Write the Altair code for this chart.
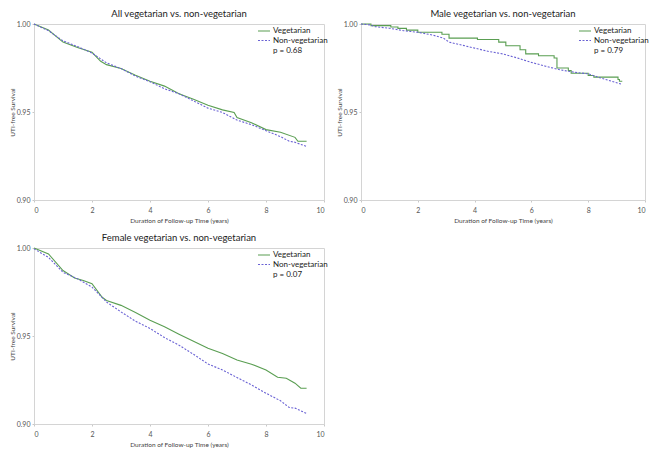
import altair as alt
import pandas as pd

# ---------------- data ----------------
groups = ["Vegetarian", "Non-vegetarian"]

all_veg_t = [0, 0.5, 1.0, 1.5, 2.0, 2.3, 2.5, 3.0, 3.5, 4.0, 4.5, 5.0, 5.5, 6.0, 6.5, 6.9, 7.0, 7.5, 8.0, 8.5, 9.0, 9.1, 9.4]
all_veg_s = [1.0, 0.9966, 0.9897, 0.9867, 0.9839, 0.9788, 0.9769, 0.9747, 0.9709, 0.9675, 0.9647, 0.9604, 0.9572, 0.9538, 0.9512, 0.9497, 0.9469, 0.9439, 0.9400, 0.9385, 0.9356, 0.9334, 0.9334]
all_non_t = [0, 0.5, 1.0, 1.5, 2.0, 2.5, 3.0, 3.5, 4.0, 4.5, 5.0, 5.5, 6.0, 6.5, 7.0, 7.5, 8.0, 8.5, 8.8, 9.0, 9.4]
all_non_s = [1.0, 0.9962, 0.9904, 0.9872, 0.9835, 0.9779, 0.9747, 0.9704, 0.9672, 0.9632, 0.9604, 0.9563, 0.9522, 0.9497, 0.9454, 0.9428, 0.9394, 0.9360, 0.9334, 0.9328, 0.9304]

male_veg_t = [0, 0.35, 1.05, 1.3, 1.6, 2.0, 2.85, 3.1, 4.1, 4.85, 5.1, 5.6, 5.8, 6.25, 6.8, 6.9, 7.3, 7.4, 8.0, 8.2, 9.05, 9.1, 9.2]
male_veg_s = [1.0, 0.9991, 0.9983, 0.9975, 0.9965, 0.9953, 0.9942, 0.9920, 0.9912, 0.9897, 0.9876, 0.9854, 0.9830, 0.9820, 0.9807, 0.9750, 0.9735, 0.9720, 0.9707, 0.9698, 0.9685, 0.9675, 0.9675]
male_non_t = [0, 0.3, 0.5, 1.0, 1.5, 2.0, 2.5, 2.9, 3.1, 3.5, 4.0, 4.5, 5.0, 5.5, 6.0, 6.5, 7.0, 7.5, 8.0, 8.5, 9.0, 9.2]
male_non_s = [1.0, 0.9995, 0.9985, 0.9976, 0.9962, 0.9953, 0.9938, 0.9920, 0.9897, 0.9882, 0.9863, 0.9844, 0.9830, 0.9807, 0.9782, 0.9760, 0.9740, 0.9726, 0.9717, 0.9690, 0.9666, 0.9657]

fem_veg_t = [0, 0.5, 1.0, 1.4, 1.7, 2.0, 2.35, 2.5, 3.0, 3.5, 4.0, 4.5, 5.0, 5.5, 6.0, 6.5, 7.0, 7.5, 8.0, 8.4, 8.7, 9.0, 9.2, 9.4]
fem_veg_s = [1.0, 0.9966, 0.9872, 0.9830, 0.9815, 0.9797, 0.9720, 0.9702, 0.9674, 0.9633, 0.9590, 0.9552, 0.9510, 0.9470, 0.9430, 0.9401, 0.9364, 0.9340, 0.9307, 0.9266, 0.9260, 0.9232, 0.9203, 0.9203]
fem_non_t = [0, 0.5, 1.0, 1.5, 2.0, 2.5, 3.0, 3.5, 4.0, 4.5, 5.0, 5.5, 6.0, 6.5, 7.0, 7.5, 8.0, 8.5, 8.8, 9.0, 9.4]
fem_non_s = [0.9995, 0.9947, 0.9862, 0.9825, 0.9778, 0.9693, 0.9637, 0.9584, 0.9543, 0.9491, 0.9448, 0.9396, 0.9341, 0.9307, 0.9264, 0.9222, 0.9175, 0.9132, 0.9094, 0.9090, 0.9060]

titles = ["All vegetarian vs. non-vegetarian", "Male vegetarian vs. non-vegetarian", "Female vegetarian vs. non-vegetarian"]
pvalues = ["p = 0.68", "p = 0.79", "p = 0.07"]
x_ticks = [0, 2, 4, 6, 8, 10]
y_ticks = [0.90, 0.95, 1.00]

GREEN = "#5a9e52"
BLUE = "#6a62d4"
FONT = "Lato"
DASHES = [[1, 0], [2, 1.5]]


def frame(t, s, g):
    return pd.DataFrame({"t": t, "s": s, "group": g})


def panel(title, veg, non, pval, w, h, veg_interp="linear"):
    xs = alt.X("t:Q", title="Duration of Follow-up Time (years)",
               scale=alt.Scale(domain=[0, 10], nice=False),
               axis=alt.Axis(values=x_ticks, format="d"))
    ys = alt.Y("s:Q", title="UTI-free Survival",
               scale=alt.Scale(domain=[0.90, 1.00], nice=False, zero=False),
               axis=alt.Axis(values=y_ticks, format=".2f"))
    l1 = alt.Chart(veg).mark_line(strokeWidth=1.1, interpolate=veg_interp,
                                  color=GREEN).encode(x=xs, y=ys)
    l2 = alt.Chart(non).mark_line(strokeWidth=1.1, interpolate="linear",
                                  color=BLUE, strokeDash=DASHES[1]).encode(x=xs, y=ys)
    # in-plot legend (annotation)
    lx0, lx1, tx = w - 66, w - 54, w - 51
    rows = []
    for i, (g, col) in enumerate(zip(groups, [GREEN, BLUE])):
        ky = 7 + 9.5 * i
        rule = alt.Chart(pd.DataFrame({"g": [g]})).mark_rule(
            color=col, strokeWidth=1.2, strokeDash=DASHES[i]
        ).encode(x=alt.value(lx0), x2=alt.value(lx1), y=alt.value(ky))
        txt = alt.Chart(pd.DataFrame({"g": [g]})).mark_text(
            align="left", baseline="middle", fontSize=8, font=FONT, color="#222"
        ).encode(text="g:N", x=alt.value(tx), y=alt.value(ky))
        rows += [rule, txt]
    ptxt = alt.Chart(pd.DataFrame({"label": [pval]})).mark_text(
        align="left", baseline="middle", fontSize=8, font=FONT, color="#222"
    ).encode(text="label:N", x=alt.value(tx), y=alt.value(26.5))
    return alt.layer(l1, l2, *rows, ptxt).properties(
        width=w, height=h,
        title=alt.Title(title, fontSize=9.5, font=FONT, fontWeight="normal",
                        color="#222", offset=2))


H = 176
p1 = panel(titles[0], frame(all_veg_t, all_veg_s, groups[0]), frame(all_non_t, all_non_s, groups[1]), pvalues[0], 290, H)
p2 = panel(titles[1], frame(male_veg_t, male_veg_s, groups[0]), frame(male_non_t, male_non_s, groups[1]), pvalues[1], 284, H, veg_interp="step-after")
p3 = panel(titles[2], frame(fem_veg_t, fem_veg_s, groups[0]), frame(fem_non_t, fem_non_s, groups[1]), pvalues[2], 290, H)

chart = alt.vconcat(
    alt.hconcat(p1, p2, spacing=6),
    p3,
    spacing=8,
).properties(padding=0).configure_view(
    stroke="#d4d4d4", strokeWidth=1
).configure_axis(
    grid=False, domainColor="#d4d4d4", tickColor="#c8c8c8", tickSize=2,
    labelFontSize=7, labelColor="#555", labelFont=FONT, labelPadding=2,
    titleFontSize=6.5, titleColor="#444", titleFont=FONT, titleFontWeight="normal",
    titlePadding=1
).configure_axisX(labelPadding=4, titlePadding=4
).configure_concat(spacing=8)

chart.save("out.html", embed_options={"renderer": "svg", "actions": False})
